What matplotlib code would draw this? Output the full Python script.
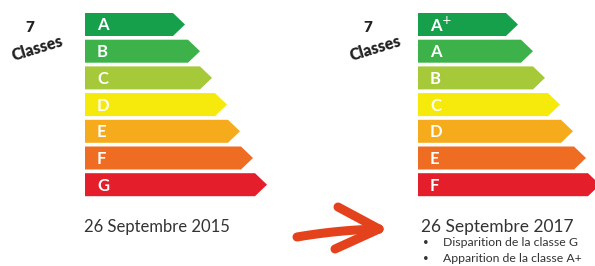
import numpy as np
import matplotlib.pyplot as plt
from matplotlib.patches import Polygon

# data
classes_2015 = ['A', 'B', 'C', 'D', 'E', 'F', 'G']
classes_2017 = ['A$^{+}$', 'A', 'B', 'C', 'D', 'E', 'F']
bar_lengths = [100, 115, 127, 142, 155, 168, 182]
colors = ['#17a04c', '#3db24a', '#a6c93a', '#f6e90c', '#f6ab1c', '#ef6d23', '#e41e2a']
date_2015 = '26 Septembre 2015'
date_2017 = '26 Septembre 2017'
notes_2017 = ['Disparition de la classe G', 'Apparition de la classe A+']

plt.rcParams['font.family'] = ['Lato', 'DejaVu Sans']

fig = plt.figure(figsize=(5.95, 2.66), dpi=100)
ax = fig.add_axes([0, 0, 1, 1])
ax.set_xlim(0, 595)
ax.set_ylim(266, 0)
ax.axis('off')

top = 13
pitch = 26.7
height = 23
tip = 12


def draw_scale(x0, labels):
    for i, (lab, length, col) in enumerate(zip(labels, bar_lengths, colors)):
        y = top + i * pitch
        pts = [(x0, y), (x0 + length - tip, y), (x0 + length, y + height / 2),
               (x0 + length - tip, y + height), (x0, y + height)]
        ax.add_patch(Polygon(pts, closed=True, facecolor=col, edgecolor='none'))
        ax.text(x0 + 12, y + height / 2 + 1, lab, color='white', fontsize=12,
                fontweight='bold', ha='left', va='center')


draw_scale(85, classes_2015)
draw_scale(418, classes_2017)

# "7 Classes" labels
for cx, cy in [(30, 28), (368, 28)]:
    ax.text(cx, cy, '7', fontsize=11, fontweight='heavy', color='#222222',
            ha='center', va='center')
    ax.text(cx + 7, cy + 20, 'Classes', fontsize=11.5, fontweight='heavy',
            color='#222222', ha='center', va='center', rotation=17)

ax.text(157, 227, date_2015, fontsize=12, color='#333333', ha='center', va='center')
ax.text(421, 227, date_2017, fontsize=12.5, color='#333333', ha='left', va='center')
for j, note in enumerate(notes_2017):
    yy = 243 + j * 15.5
    ax.text(426, yy, '•', fontsize=7, color='#333333', ha='center', va='center')
    ax.text(443, yy, note, fontsize=8.8, color='#333333', ha='left', va='center')

# red brush arrow: curved shaft plus two head strokes
red = '#e4421d'
t = np.linspace(0, 1, 30)
sx = 297 + 82 * t
sy = 237 - 8 * t - 6 * t * (1 - t)
ax.plot(sx, sy, color=red, lw=6.5, solid_capstyle='round')
ax.plot([338, 379], [207, 229], color=red, lw=6.5, solid_capstyle='round')
ax.plot([379, 335], [229, 249], color=red, lw=6.5, solid_capstyle='round')

fig.savefig('out.png', dpi=100, facecolor='white')
